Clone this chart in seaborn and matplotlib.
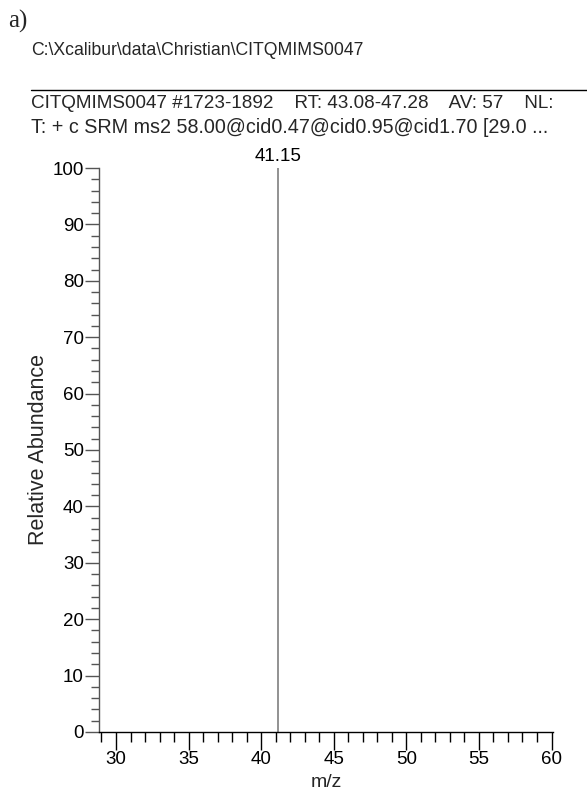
import matplotlib
matplotlib.use("Agg")
import matplotlib.pyplot as plt
import seaborn as sns
from matplotlib.ticker import MultipleLocator

# spectrum data
peak_mz = [41.15]
peak_abundance = [100]
peak_labels = ["41.15"]

file_path = r"C:\Xcalibur\data\Christian\CITQMIMS0047"
header_1 = "CITQMIMS0047 #1723-1892    RT: 43.08-47.28    AV: 57    NL:"
header_2 = "T: + c SRM ms2 58.00@cid0.47@cid0.95@cid1.70 [29.0 ..."

sns.set_theme(style="ticks")
plt.rcParams["font.family"] = ["Liberation Sans", "DejaVu Sans"]

fig = plt.figure(figsize=(5.87, 7.94), dpi=100)
ax = fig.add_axes([0.1687, 0.0781, 0.7733, 0.7103])

ax.vlines(peak_mz, 0, peak_abundance, color="#7f7f7f", lw=1.2)
for mz, ab, lab in zip(peak_mz, peak_abundance, peak_labels):
    ax.annotate(lab, (mz, ab), xytext=(0, 2), textcoords="offset points",
                ha="center", va="bottom", fontsize=13.5, color="black")

ax.set_xlim(28.83, 60.1)
ax.set_ylim(0, 100)
ax.xaxis.set_major_locator(MultipleLocator(5))
ax.xaxis.set_minor_locator(MultipleLocator(1))
ax.yaxis.set_major_locator(MultipleLocator(10))
ax.yaxis.set_minor_locator(MultipleLocator(2))

ax.tick_params(axis="both", which="major", labelsize=13.5, length=10, width=1,
               pad=1, colors="#555555", labelcolor="black")
ax.tick_params(axis="both", which="minor", length=6, width=1, colors="#555555")
ax.tick_params(axis="x", which="major", length=13)
ax.tick_params(axis="x", which="minor", length=7)
ax.tick_params(axis="x", which="both", colors="black")

ax.set_xlabel("m/z", fontsize=14, labelpad=4)
ax.set_ylabel("Relative Abundance", fontsize=15.5, labelpad=2.5)

sns.despine(ax=ax)
ax.spines["left"].set_color("#555555")
ax.spines["bottom"].set_color("black")
ax.spines["left"].set_linewidth(1)
ax.spines["bottom"].set_linewidth(1)

fig.text(0.0136, 0.9736, "a)", family=["Liberation Serif", "DejaVu Serif"],
         fontsize=18, va="center", ha="left")
fig.text(0.053, 0.936, file_path, fontsize=12.7, va="center", ha="left")
fig.add_artist(plt.Line2D([0.053, 1.0], [0.8866, 0.8866], color="black", lw=1))
fig.text(0.053, 0.870, header_1, fontsize=13.6, va="center", ha="left")
fig.text(0.053, 0.840, header_2, fontsize=14.2, va="center", ha="left")

fig.savefig("out.png", dpi=100)
